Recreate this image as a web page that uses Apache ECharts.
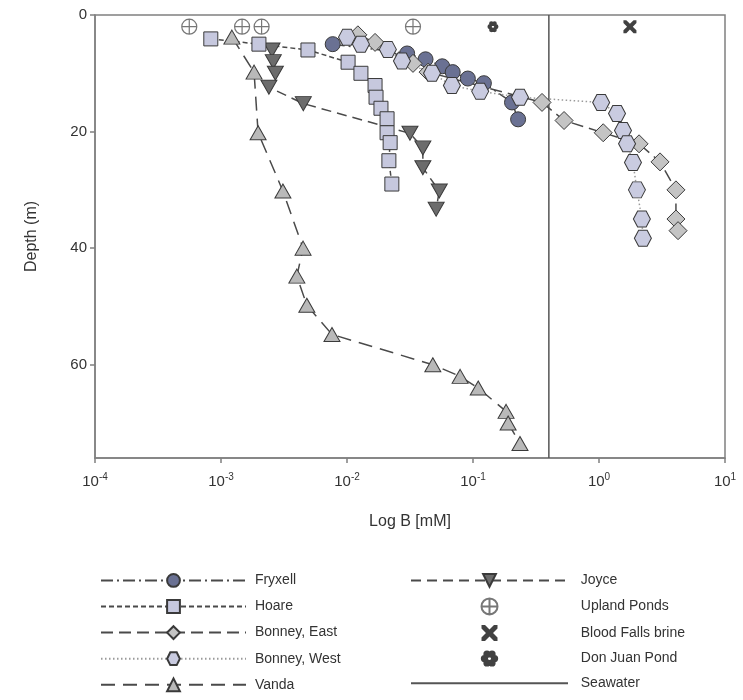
<!DOCTYPE html>
<html>
<head>
<meta charset="utf-8">
<script src="https://cdn.jsdelivr.net/npm/echarts@6/dist/echarts.min.js"></script>
<style>
  html, body { margin: 0; padding: 0; background: #fff; }
  #chart { width: 743px; height: 700px; }
</style>
</head>
<body>
<div id="chart"></div>
<script>
"use strict";

// Boron profiles: [B in mM, depth in m]
const FRYXELL = [
  [0.0077, 5.0], [0.030, 6.6], [0.042, 7.6], [0.057, 8.8], [0.069, 9.8],
  [0.091, 10.9], [0.122, 11.7], [0.204, 15.0], [0.228, 17.9],
];
const HOARE = [
  [0.00083, 4.1], [0.0020, 5.0], [0.0049, 6.0], [0.0102, 8.1], [0.0129, 10.0],
  [0.0167, 12.1], [0.0170, 14.1], [0.0186, 16.0], [0.0208, 17.8], [0.0208, 20.2],
  [0.0220, 21.9], [0.0215, 25.0], [0.0227, 29.0],
];
const BONNEY_EAST = [
  [0.0122, 3.4], [0.0167, 4.7], [0.0334, 8.3], [0.044, 9.8], [0.353, 15.0],
  [0.528, 18.1], [1.08, 20.2], [2.08, 22.1], [3.05, 25.2], [4.08, 30.0],
  [4.08, 35.0], [4.24, 37.0],
];
const BONNEY_WEST = [
  [0.0100, 3.8], [0.0129, 5.0], [0.0211, 5.9], [0.0273, 7.9], [0.0473, 10.0],
  [0.068, 12.1], [0.114, 13.1], [0.236, 14.1], [1.04, 15.0], [1.39, 16.9],
  [1.55, 19.8], [1.67, 22.1], [1.86, 25.3], [2.00, 30.0], [2.19, 35.0],
  [2.23, 38.3],
];
const VANDA = [
  [0.00122, 3.8], [0.00183, 9.8], [0.00197, 20.2], [0.0031, 30.2], [0.00448, 40.0],
  [0.0040, 44.8], [0.0048, 49.8], [0.0076, 54.8], [0.048, 60.0], [0.079, 62.0],
  [0.110, 64.0], [0.183, 68.0], [0.190, 70.0], [0.236, 73.5],
];
const JOYCE = [
  [0.00254, 6.0], [0.0026, 8.0], [0.0027, 10.0], [0.0024, 12.4], [0.0045, 15.2],
  [0.0316, 20.3], [0.040, 22.8], [0.040, 26.2], [0.054, 30.2], [0.051, 33.3],
];
const UPLAND_PONDS = [[0.00056, 2], [0.00147, 2], [0.0021, 2], [0.0334, 2]];
const BLOOD_FALLS = [[1.76, 2]];
const DON_JUAN = [[0.144, 2]];
const SEAWATER_B = 0.4;

const X_MIN = 1e-4, X_MAX = 10;
const Y_MIN = 0, Y_MAX = 76;

const FONT = "'Liberation Sans', Arial, sans-serif";
const LINE = "#4a4a4a";
const EDGE = "#3a3a3a";

// symbol shapes
const HEXAGON = "path://M-1,0 L-0.5,-0.866 L0.5,-0.866 L1,0 L0.5,0.866 L-0.5,0.866 Z";
const DOWN_TRI = "path://M0,0 L10,0 L5,9 Z";
const CIRCLE_PLUS = "path://M10,0 A10,10 0 1,1 -10,0 A10,10 0 1,1 10,0 Z M-10,0 L10,0 M0,-10 L0,10";
const CROSS = "path://M0,0 L2.2,0 L5,2.8 L7.8,0 L10,0 L10,2.2 L7.2,5 L10,7.8 L10,10 L7.8,10 L5,7.2 L2.2,10 L0,10 L0,7.8 L2.8,5 L0,2.2 Z";

// little rosette for Don Juan Pond: petals + ring with a hole
function rosettePath() {
  const circ = (cx, cy, r, rev) => {
    const s = rev ? 0 : 1;
    return `M${(cx + r).toFixed(3)},${cy.toFixed(3)} A${r},${r} 0 1,${s} ${(cx - r).toFixed(3)},${cy.toFixed(3)} ` +
      `A${r},${r} 0 1,${s} ${(cx + r).toFixed(3)},${cy.toFixed(3)} Z `;
  };
  let p = "";
  for (let k = 0; k < 6; k++) {
    const a = (k * Math.PI) / 3;
    p += circ(3.2 * Math.cos(a), 3.2 * Math.sin(a), 2.3, false);
  }
  p += circ(0, 0, 3.6, false);
  p += circ(0, 0, 1.7, true);
  return "path://" + p;
}

function profile(name, data, symbol, size, fill, dash, lineColor) {
  return {
    name: name,
    type: "line",
    data: data,
    symbol: symbol,
    symbolSize: size,
    z: 3,
    lineStyle: { color: lineColor || LINE, width: 1.5, type: dash },
    itemStyle: { color: fill, borderColor: EDGE, borderWidth: 1 },
  };
}

const series = [
  {
    name: "Seawater",
    type: "line",
    data: [[SEAWATER_B, Y_MIN], [SEAWATER_B, Y_MAX]],
    symbol: "none",
    z: 2,
    lineStyle: { color: "#555", width: 1.5, type: "solid" },
    itemStyle: { color: "#555" },
  },
  profile("Vanda", VANDA, "triangle", [16, 14], "#b9b9b9", [14, 8]),
  profile("Joyce", JOYCE, DOWN_TRI, [16, 14], "#6c6c6c", [10, 6]),
  profile("Hoare", HOARE, "rect", 14, "#c6c8de", [5, 3]),
  profile("Fryxell", FRYXELL, "circle", 15, "#6a7193", [12, 4, 2, 4]),
  profile("Bonney, East", BONNEY_EAST, "diamond", [18, 18], "#c4c4c4", [12, 6]),
  profile("Bonney, West", BONNEY_WEST, HEXAGON, [17, 16], "#c9cbe0", [1.5, 2.5], "#9a9a9a"),
  {
    name: "Upland Ponds",
    type: "scatter",
    data: UPLAND_PONDS,
    symbol: CIRCLE_PLUS,
    symbolSize: 15,
    z: 4,
    itemStyle: { color: "transparent", borderColor: "#555", borderWidth: 1.2 },
  },
  {
    name: "Blood Falls brine",
    type: "scatter",
    data: BLOOD_FALLS,
    symbol: CROSS,
    symbolSize: 13,
    z: 4,
    itemStyle: { color: "#111" },
  },
  {
    name: "Don Juan Pond",
    type: "scatter",
    data: DON_JUAN,
    symbol: rosettePath(),
    symbolSize: 11,
    z: 4,
    itemStyle: { color: "#111" },
  },
];

function supLabel(v) {
  const e = Math.round(Math.log10(v));
  return "{b|10}{s|" + e + "}";
}

const legendText = { fontFamily: FONT, fontSize: 14, color: "#333" };

const chart = echarts.init(document.getElementById("chart"), null, { renderer: "canvas" });
chart.setOption({
  animation: false,
  backgroundColor: "#fff",
  textStyle: { fontFamily: FONT },
  grid: {
    left: 95, right: 18, top: 15, bottom: 242,
    show: true, borderColor: "#808080", borderWidth: 1.5,
  },
  xAxis: {
    type: "log",
    logBase: 10,
    min: X_MIN,
    max: X_MAX,
    name: "Log B [mM]",
    nameLocation: "middle",
    nameGap: 56,
    nameTextStyle: { fontFamily: FONT, fontSize: 16, color: "#333" },
    axisLine: { onZero: false, lineStyle: { color: "#808080", width: 1.5 } },
    axisTick: { inside: false, length: 5, lineStyle: { color: "#808080", width: 1.5 } },
    minorTick: { show: false },
    splitLine: { show: false },
    axisLabel: {
      margin: 14,
      formatter: supLabel,
      rich: {
        b: { fontFamily: FONT, fontSize: 15, color: "#333", verticalAlign: "bottom" },
        s: { fontFamily: FONT, fontSize: 10, color: "#333", verticalAlign: "bottom", padding: [0, 0, 7, 0] },
      },
    },
  },
  yAxis: {
    type: "value",
    inverse: true,
    min: Y_MIN,
    max: Y_MAX,
    interval: 20,
    name: "Depth (m)",
    nameLocation: "middle",
    nameGap: 55,
    nameRotate: 90,
    nameTextStyle: { fontFamily: FONT, fontSize: 16, color: "#333" },
    axisLine: { show: true, onZero: false, lineStyle: { color: "#808080", width: 1.5 } },
    axisTick: { show: true, length: 5, lineStyle: { color: "#808080", width: 1.5 } },
    splitLine: { show: false },
    axisLabel: { fontFamily: FONT, fontSize: 15, color: "#333", margin: 8, showMaxLabel: false },
  },
  legend: [
    {
      data: ["Fryxell", "Hoare", "Bonney, East", "Bonney, West", "Vanda"],
      orient: "vertical",
      left: 100,
      top: 573,
      padding: 0,
      itemWidth: 145,
      itemHeight: 16,
      itemGap: 11.3,
      formatter: (n) => " " + n,
      textStyle: legendText,
      selectedMode: false,
    },
    {
      data: [
        "Joyce", "Upland Ponds", "Blood Falls brine", "Don Juan Pond",
        { name: "Seawater", itemStyle: { opacity: 0 } },
      ],
      orient: "vertical",
      left: 410,
      top: 573,
      padding: 0,
      itemWidth: 157,
      itemHeight: 16,
      itemGap: 9.6,
      formatter: (n) => "  " + n,
      textStyle: legendText,
      selectedMode: false,
    },
  ],
  series: series,
});
</script>
</body>
</html>
